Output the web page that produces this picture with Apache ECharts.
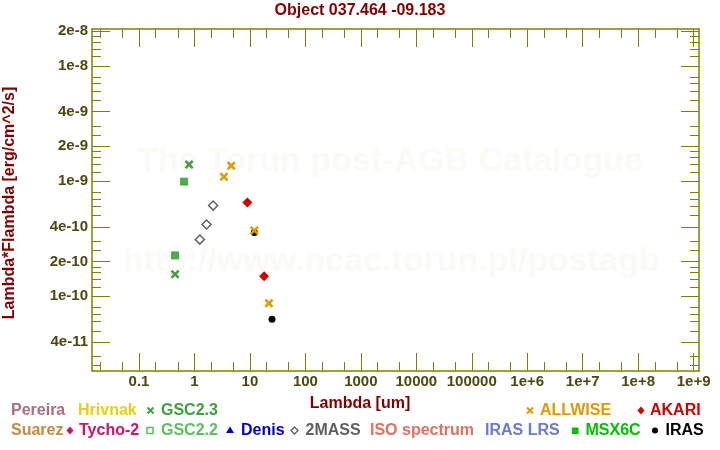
<!DOCTYPE html>
<html><head><meta charset="utf-8">
<script src="https://cdn.jsdelivr.net/npm/echarts@6/dist/echarts.min.js"></script>
<style>html,body{margin:0;padding:0;background:#fff}#c{width:720px;height:450px}</style>
</head><body><div id="c"></div>
<script>
// ---- data ----
const xTickLabels = ['0.1','1','10','100','1000','10000','100000','1e+6','1e+7','1e+8','1e+9'];
const xMinorMantissas = [2,5];
const yTickLabels = ['2e-8','1e-8','4e-9','2e-9','1e-9','4e-10','2e-10','1e-10','4e-11'];
const yMinorMantissas = [1.2,1.4,1.6,1.8,2.5,3,5,6,7,8];
const xRange = [0.0142, 1.25e9];
const yRange = [2.24e-11, 2.09e-8];

const irasData    = [[12,3.57e-10],[25,6.29e-11]];
const twomassData = [[1.25,3.10e-10],[1.65,4.19e-10],[2.17,6.12e-10]];
const gsc22Data   = [[0.447,2.26e-10],[0.65,9.88e-10]];
const gsc23Data   = [[0.447,1.55e-10],[0.80,1.39e-9]];
const akariData   = [[9,6.50e-10],[18,1.49e-10]];
const allwiseData = [[3.4,1.09e-9],[4.6,1.36e-9],[12,3.72e-10],[22,8.67e-11]];

// ---- helpers ----
const OLIVE = '#808000';
const LBL = '#4d4810';
const FONT = '"Liberation Sans", Arial, sans-serif';
const lg = v => Math.log10(v);
function minorVals(range, mants){
  const out=[]; const a=lg(range[0]), b=lg(range[1]);
  for(let e=Math.floor(a)-1;e<=Math.ceil(b);e++){
    for(const m of mants){ const v=lg(m)+e; if(v>=a&&v<=b) out.push(v); }
  }
  return out;
}
const xMajor = xTickLabels.map(s=>lg(parseFloat(s)));
const yMajor = yTickLabels.map(s=>lg(parseFloat(s)));
const xMinor = minorVals(xRange, xMinorMantissas);
const yMinor = minorVals(yRange, yMinorMantissas);
function labelFor(list, labels){ return v => { for(let i=0;i<list.length;i++) if(Math.abs(list[i]-v)<1e-6) return labels[i]; return ''; }; }

function ovAxis(dim, pos, vals, len, showLine, showLabel){
  const range = dim==='x'? xRange : yRange;
  const lbls = dim==='x'? xTickLabels : yTickLabels;
  const maj = dim==='x'? xMajor : yMajor;
  return {
    type:'value', gridIndex:0, position:pos, min: lg(range[0]), max: lg(range[1]),
    axisLine:{show:showLine, onZero:false, lineStyle:{color:OLIVE,width:1.5}},
    axisTick:{show:true, inside:true, length:len, customValues: vals, lineStyle:{color:OLIVE,width:1}},
    axisLabel:{show:showLabel, customValues: vals, formatter: labelFor(maj,lbls), color: LBL,
      fontSize:15, fontWeight:'bold', fontFamily: FONT, margin: dim==='x'?3:4, hideOverlap:false},
    splitLine:{show:false}, splitArea:{show:false}, silent:true
  };
}

const logAxis = (range) => ({type:'log', logBase:10, min:range[0], max:range[1], show:false, gridIndex:0,
  axisLine:{show:false}, axisTick:{show:false}, axisLabel:{show:false}, splitLine:{show:false}});

const xSym = 'path://M0,2 L2,0 L5,3 L8,0 L10,2 L7,5 L10,8 L8,10 L5,7 L2,10 L0,8 L3,5 Z';

// ---- legend layout ----
const legendItems = [
 {name:'Pereira', color:'#b06a80', row:0, x:11},
 {name:'Hrivnak', color:'#e8cf10', row:0, x:78},
 {name:'GSC2.3', color:'#40a040', row:0, x:161, mark:'x', mx:150.5},
 {name:'ALLWISE', color:'#e09a00', row:0, x:540, mark:'x', mx:530},
 {name:'AKARI', color:'#d00000', row:0, x:650, mark:'diamond', mx:641},
 {name:'Suarez', color:'#c48a40', row:1, x:11},
 {name:'Tycho-2', color:'#d0106a', row:1, x:79, mark:'diamond', mx:70},
 {name:'GSC2.2', color:'#5cbf5c', row:1, x:161, mark:'square-open', mx:150},
 {name:'Denis', color:'#0000c8', row:1, x:241, mark:'triangle', mx:230},
 {name:'2MASS', color:'#606060', row:1, x:305.5, mark:'diamond-open', mx:294.5},
 {name:'ISO spectrum', color:'#e07060', row:1, x:370},
 {name:'IRAS LRS', color:'#6a78d8', row:1, x:485},
 {name:'MSX6C', color:'#00c000', row:1, x:585.5, mark:'square', mx:575},
 {name:'IRAS', color:'#000000', row:1, x:665.5, mark:'circle', mx:655}
];
const rowY = [410.5, 430.5];
const graphics = [];
graphics.push({type:'text', x:390, y:162, z:-10, silent:true, style:{text:'The Torun post-AGB Catalogue', fill:'#fbfaf6', font:'bold 34px '+FONT, align:'center', verticalAlign:'middle'}});
graphics.push({type:'text', x:391, y:262, z:-10, silent:true, style:{text:'http://www.ncac.torun.pl/postagb', fill:'#fbfaf6', font:'bold 34px '+FONT, align:'center', verticalAlign:'middle'}});
graphics.push({type:'text', x:360, y:404, style:{text:'Lambda [um]', fill:'#800000', font:'bold 16px '+FONT, align:'center', verticalAlign:'middle'}});
graphics.push({type:'text', x:10, y:203, rotation:Math.PI/2, style:{text:'Lambda*Flambda [erg/cm^2/s]', fill:'#800000', font:'bold 16px '+FONT, align:'center', verticalAlign:'middle'}});
legendItems.forEach(it=>{
  const y = rowY[it.row];
  graphics.push({type:'text', x:it.x, y:y, style:{text:it.name, fill:it.color, font:'bold 16px '+FONT, align:'left', verticalAlign:'middle'}});
  const m = it.mx;
  if(it.mark==='x'){
    graphics.push({type:'line', shape:{x1:m-3,y1:y-3,x2:m+3,y2:y+3}, style:{stroke:it.color,lineWidth:2}});
    graphics.push({type:'line', shape:{x1:m-3,y1:y+3,x2:m+3,y2:y-3}, style:{stroke:it.color,lineWidth:2}});
  } else if(it.mark==='diamond'){
    graphics.push({type:'polygon', shape:{points:[[m,y-4],[m+3.5,y],[m,y+4],[m-3.5,y]]}, style:{fill:it.color}});
  } else if(it.mark==='diamond-open'){
    graphics.push({type:'polygon', shape:{points:[[m,y-3.5],[m+3.5,y],[m,y+3.5],[m-3.5,y]]}, style:{fill:'none',stroke:it.color,lineWidth:1.3}});
  } else if(it.mark==='square-open'){
    graphics.push({type:'rect', shape:{x:m-3,y:y-3,width:6,height:6}, style:{fill:'none',stroke:it.color,lineWidth:1.5}});
  } else if(it.mark==='square'){
    graphics.push({type:'rect', shape:{x:m-3,y:y-3,width:6.5,height:6.5}, style:{fill:it.color}});
  } else if(it.mark==='triangle'){
    graphics.push({type:'polygon', shape:{points:[[m,y-4],[m+4,y+2.5],[m-4,y+2.5]]}, style:{fill:it.color}});
  } else if(it.mark==='circle'){
    graphics.push({type:'circle', shape:{cx:m,cy:y,r:3}, style:{fill:it.color}});
  }
});

const sc = (name, data, symbol, size, style) => ({
  type:'scatter', name, data, symbol, symbolSize:size, xAxisIndex:0, yAxisIndex:0,
  itemStyle:Object.assign({opacity:1}, style), emphasis:{disabled:true}, z:3
});

const option = {
  backgroundColor:'#ffffff',
  animation:false,
  title:{text:'Object 037.464 -09.183', left:'center', top:3, padding:0,
    textStyle:{color:'#800000', fontSize:16, fontWeight:'bold', fontFamily:FONT}},
  grid:{left:92, top:29, width:607, height:342, containLabel:false, outerBoundsMode:'none'},
  xAxis:[logAxis(xRange),
    ovAxis('x','bottom',xMajor,18,true,true),
    ovAxis('x','bottom',xMinor,9,false,false),
    ovAxis('x','top',xMajor,18,true,false),
    ovAxis('x','top',xMinor,9,false,false)],
  yAxis:[logAxis(yRange),
    ovAxis('y','left',yMajor,18,true,true),
    ovAxis('y','left',yMinor,9,false,false),
    ovAxis('y','right',yMajor,18,true,false),
    ovAxis('y','right',yMinor,9,false,false)],
  graphic:graphics,
  series:[
    sc('IRAS', irasData, 'circle', 7, {color:'#000'}),
    sc('2MASS', twomassData, 'diamond', 9, {color:'#ffffff', borderColor:'#606060', borderWidth:1.5}),
    sc('GSC2.2', gsc22Data, 'rect', 7, {color:'#4caf4c', borderColor:'#3e9a3e', borderWidth:0.8}),
    sc('GSC2.3', gsc23Data, xSym, 9, {color:'#40a040'}),
    sc('AKARI', akariData, 'diamond', 10, {color:'#d00000'}),
    sc('ALLWISE', allwiseData, xSym, 9, {color:'#e09a00'})
  ]
};
const chart = echarts.init(document.getElementById('c'), null, {renderer:'canvas'});
chart.setOption(option);
</script>
</body></html>
